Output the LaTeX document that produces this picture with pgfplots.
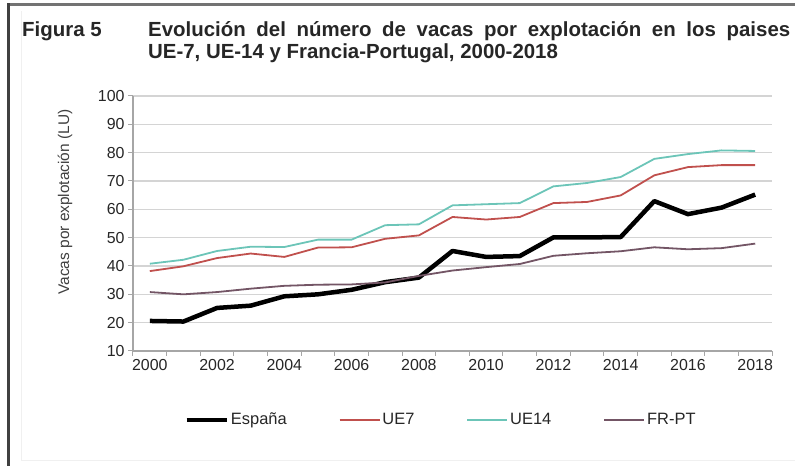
\documentclass[border=0pt]{standalone}
\usepackage{fontspec}
\setmainfont{Liberation Sans}
\usepackage{pgfplots}
\pgfplotsset{compat=1.18}
\definecolor{espc}{HTML}{000000}
\definecolor{ue7c}{HTML}{C0504D}
\definecolor{ue14c}{HTML}{6CC5B8}
\definecolor{frptc}{HTML}{735565}
\definecolor{gridc}{HTML}{D4D4D4}
\definecolor{axc}{HTML}{A6A6A6}
\begin{document}
\begin{tikzpicture}[x=1bp,y=1bp]
% page: pixel (0,0)-(795,466); axis lower-left at pixel (133,351)
\path[use as bounding box] (-133,-115) rectangle (662,351);
\draw[gray!12, line width=1bp] (-111,-110) -- (-111,340);
\draw[gray!12, line width=1bp] (-111,-110) -- (662,-110);
\draw[black!55, line width=3bp] (-125,346) -- (662,346);
\draw[black!75, line width=3bp] (-124,347.5) -- (-124,-115);
\node[anchor=base west, font=\fontsize{20.5}{22}\selectfont\bfseries, text=black!85, inner sep=0] at (-111,314) {Figura 5};
\node[anchor=base west, font=\fontsize{20.5}{22}\selectfont\bfseries, text=black!85, inner sep=0] at (15,314) {\makebox[642bp][s]{Evolución del número de vacas por explotación en los paises}};
\node[anchor=base west, font=\fontsize{20.5}{22}\selectfont\bfseries, text=black!85, inner sep=0] at (15,292) {UE-7, UE-14 y Francia-Portugal, 2000-2018};
\begin{axis}[
  at={(0,0)}, anchor=south west,
  scale only axis, width=639bp, height=255bp,
  xmin=1999.5, xmax=2018.5, ymin=10, ymax=100,
  xtick={2000,2002,...,2018},
  minor xtick={1999.5,2000.5,...,2018.5},
  ytick={10,20,...,100},
  every major x tick/.append style={draw=none},
  every minor x tick/.append style={draw=axc, line width=1bp},
  every major y tick/.append style={draw=axc, line width=1bp},
  major tick length=5bp, minor tick length=5bp,
  tick align=outside,
  axis x line*=bottom, axis y line*=left,
  axis line style={draw=axc, line width=1.2bp, -},
  ymajorgrids, major grid style={draw=gridc, line width=1.6bp},
  /pgf/number format/assume math mode=true,
  xticklabel style={/pgf/number format/1000 sep={}},
  ticklabel style={font=\fontsize{16}{18}\selectfont, text=black!85},
  ylabel={Vacas por explotación (LU)},
  ylabel style={at={(axis description cs:-0.1064,0.584)}, anchor=center, font=\fontsize{15.5}{18}\selectfont, text=black!75},
  legend columns=4,
  legend style={at={(axis description cs:0.482,-0.27)}, anchor=center, draw=none, fill=none,
    font=\fontsize{16.5}{18}\selectfont, text=black!85,
    /tikz/every even column/.append style={column sep=50bp},
    /tikz/every odd column/.append style={column sep=0bp}},
  legend cell align=left,
  legend image code/.code={\draw[#1] (0bp,0bp) -- (40bp,0bp);},
  line join=round,
]
\addplot[espc, line width=4.5bp] table {
x y
2000 20.6
2001 20.4
2002 25.2
2003 26.0
2004 29.3
2005 30.0
2006 31.6
2007 34.3
2008 35.9
2009 45.3
2010 43.2
2011 43.5
2012 50.1
2013 50.1
2014 50.2
2015 62.9
2016 58.3
2017 60.6
2018 65.2
};
\addlegendentry{España}
\addplot[ue7c, line width=1.8bp] table {
x y
2000 38.2
2001 39.9
2002 42.8
2003 44.4
2004 43.2
2005 46.5
2006 46.6
2007 49.6
2008 50.8
2009 57.3
2010 56.4
2011 57.3
2012 62.2
2013 62.6
2014 64.9
2015 72.0
2016 74.9
2017 75.6
2018 75.6
};
\addlegendentry{UE7}
\addplot[ue14c, line width=1.8bp] table {
x y
2000 40.8
2001 42.2
2002 45.3
2003 46.8
2004 46.7
2005 49.3
2006 49.3
2007 54.4
2008 54.7
2009 61.4
2010 61.8
2011 62.2
2012 68.1
2013 69.3
2014 71.4
2015 77.8
2016 79.5
2017 80.8
2018 80.6
};
\addlegendentry{UE14}
\addplot[frptc, line width=1.8bp] table {
x y
2000 30.8
2001 30.0
2002 30.8
2003 32.0
2004 33.0
2005 33.4
2006 33.5
2007 34.2
2008 36.5
2009 38.4
2010 39.6
2011 40.7
2012 43.6
2013 44.5
2014 45.2
2015 46.6
2016 45.9
2017 46.3
2018 47.9
};
\addlegendentry{FR-PT}
\end{axis}
\end{tikzpicture}
\end{document}
